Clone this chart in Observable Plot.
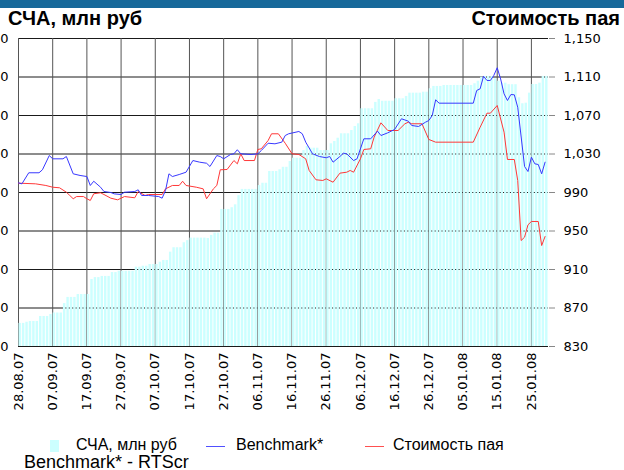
<!DOCTYPE html>
<html><head><meta charset="utf-8">
<script src="https://cdn.jsdelivr.net/npm/d3@7"></script>
<script src="https://cdn.jsdelivr.net/npm/@observablehq/plot@0.6"></script>
<style>
body{margin:0;background:#fff;}
#wrap{position:relative;width:624px;height:470px;overflow:hidden;background:#fff;font-family:"Liberation Sans",Arial,sans-serif;color:#000;}
#band{position:absolute;left:0;top:0;width:624px;height:8px;background:#17699a;z-index:3;}
.title{position:absolute;top:7px;font-weight:bold;font-size:20px;line-height:22px;z-index:2;white-space:nowrap;}
#chart{position:absolute;left:0;top:0;}
.leg{position:absolute;font-size:16px;line-height:18px;top:436px;white-space:nowrap;}
.sw{position:absolute;}
#note{position:absolute;left:24px;top:452px;font-size:18px;line-height:20px;white-space:nowrap;}
</style></head>
<body>
<div id="wrap">
  <div id="band"></div>
  <div class="title" style="left:8px;">СЧА, млн руб</div>
  <div class="title" style="right:4px;">Стоимость пая</div>
  <div id="chart"></div>
  <div class="sw" style="left:50px;top:440px;width:9px;height:12px;background:#ccffff;"></div>
  <div class="leg" style="left:76px;">СЧА, млн руб</div>
  <div class="sw" style="left:206px;top:446px;width:19px;height:1px;background:#5050ff;"></div>
  <div class="leg" style="left:236px;">Benchmark*</div>
  <div class="sw" style="left:365px;top:446px;width:19px;height:1px;background:#ff5050;"></div>
  <div class="leg" style="left:393px;">Стоимость пая</div>
  <div id="note">Benchmark* - RTScr</div>
</div>
<script>
// ---- data ----
const startDate = "2007-08-28";
const dayCount = 155;
const tickLabels = ["28.08.07","07.09.07","17.09.07","27.09.07","07.10.07","17.10.07","27.10.07","06.11.07","16.11.07","26.11.07","06.12.07","16.12.07","26.12.07","05.01.08","15.01.08","25.01.08"];
const rightTicks = [830,870,910,950,990,1030,1070,1110,1150];
const leftTicks = [0,200,400,600,800,1000,1200,1400,1600];

// СЧА, млн руб — one value per calendar day
const scaValues = [
 120,120,126,130,130,130,156,156,156,166,
 174,174,174,223,255,255,255,270,270,270,
 270,348,358,358,364,364,364,384,384,391,
 391,391,391,391,412,412,417,417,426,426,
 426,438,447,447,490,513,513,513,539,550,
 563,563,563,563,563,561,577,589,589,712,
 712,712,721,736,784,816,816,816,816,816,
 836,848,848,909,909,909,918,931,931,961,
 978,978,978,1018,1039,1030,1030,1030,1018,1018,
 1018,1053,1065,1082,1105,1105,1105,1122,1143,1157,
 1235,1235,1235,1235,1268,1283,1274,1274,1274,1274,
 1287,1287,1287,1299,1316,1316,1316,1316,1321,1321,
 1339,1351,1351,1351,1356,1356,1356,1356,1356,1356,
 1356,1356,1356,1365,1378,1399,1403,1403,1403,1391,
 1378,1368,1368,1360,1360,1360,1292,1261,1264,1316,
 1361,1361,1368,1403,1403];

// Benchmark* (day offset from start, value)
const benchDays = [0,1,3,6,7,9,10,13,14,16,18,20,21,22,24,25,27,28,30,31,34,35,36,38,41,42,43,44,45,47,49,51,53,55,56,58,59,60,62,63,64,65,68,70,71,73,75,77,78,79,82,83,84,86,88,90,91,92,94,95,96,98,99,101,103,105,106,108,110,112,114,115,117,119,120,121,122,123,133,134,135,136,137,138,139,140,141,142,143,144,145,146,148,149,150,151,152,153,154];
const benchValues = [1000,999,1010.5,1010.5,1013.6,1028.4,1025,1025,1027.4,1009.4,1007.7,1006.6,997.3,1001.7,995.5,991,990,988.6,987.9,990.3,991,992.8,986.9,986.9,985.8,984.1,992.1,1009.4,1006.6,1008.7,1011.1,1023.2,1021.5,1020.4,1017,1028.4,1027.4,1025,1029.5,1030.2,1034.4,1030.2,1029.5,1030.2,1033.6,1041.2,1040.6,1042.3,1049.2,1051,1053.4,1051,1042.3,1030.2,1027.4,1026.1,1027.4,1021.5,1027.4,1030.8,1030.2,1023.2,1025,1045.8,1045.8,1053.7,1049.2,1052,1055.5,1066.6,1064.1,1059.6,1058.6,1063,1064.8,1070,1086.3,1082.8,1082.8,1096,1097.7,1110.8,1106.4,1106.4,1111.6,1119.6,1108,1092.5,1085.6,1091.8,1091.5,1078.6,1017,1011.8,1026.7,1019.8,1019.1,1009.4,1021.5];

// Стоимость пая
const navDays = [0,5,8,10,12,14,15,16,17,19,20,21,22,24,25,27,29,31,34,35,37,38,42,43,45,47,48,49,52,54,55,57,58,59,61,63,64,65,66,69,70,71,73,74,76,78,80,82,84,85,87,89,90,92,94,96,97,98,100,101,103,104,105,106,108,111,113,114,115,118,120,122,133,135,137,138,140,142,143,145,146,147,148,149,150,152,153,154];
const navValues = [999.7,999,997.3,995.5,994.9,990.3,986.9,983.5,985.8,985.8,983.5,981.7,988.7,989.7,987.9,984.1,982.4,985.8,984.5,991,986.9,987.9,987.9,993.8,997.3,997.3,1001.7,997.3,995.5,993.8,983.5,993.8,997.3,1013.6,1013.9,1023.2,1019.8,1030.2,1023.2,1023.2,1034.7,1035.4,1044,1051,1051,1041.2,1030.2,1029.5,1025,1012.9,1003.2,1002.5,1004.2,1000.7,1010.1,1011.1,1012.9,1011.1,1025,1034.7,1035.4,1047.5,1055,1062.4,1054.4,1054.4,1061.4,1063,1061.4,1061.4,1045.1,1042.3,1042.3,1057.8,1072.4,1072.4,1080.4,1052.7,1024.3,1024.3,1002.5,940.1,943.6,956.4,959.9,959.9,934.9,944.3];

// ---- build ----
const DAY = 864e5;
const t0 = d3.utcParse("%Y-%m-%d")(startDate);
const dayDate = d => new Date(+t0 + d * DAY);
const parseTick = d3.utcParse("%d.%m.%y");
const tickDates = tickLabels.map(parseTick);
const rMin = rightTicks[0], rMax = rightTicks[rightTicks.length - 1];
const lMax = leftTicks[leftTicks.length - 1];
const toRight = v => rMin + v * (rMax - rMin) / lMax;

const sca = scaValues.map((v, i) => ({x1: dayDate(i), x2: dayDate(i + 1), v}));
const bench = benchDays.map((d, i) => ({x: dayDate(d), y: benchValues[i]}));
const nav = navDays.map((d, i) => ({x: dayDate(d), y: navValues[i]}));
const fmt = d3.format(",");

const chart = Plot.plot({
  width: 624, height: 430,
  marginTop: 38, marginBottom: 84, marginLeft: 18, marginRight: 76,
  style: {fontFamily: "DejaVu Sans", fontSize: "13px", background: "transparent", color: "#000"},
  x: {type: "utc", domain: [t0, dayDate(dayCount)]},
  y: {domain: [rMin, rMax]},
  marks: [
    Plot.gridY(rightTicks, {stroke: "#1a1a1a", strokeOpacity: 1, strokeWidth: 1}),
    Plot.gridX(tickDates, {stroke: "#555", strokeOpacity: 1, strokeWidth: 1}),
    Plot.rect(sca, {x1: "x1", x2: "x2", y1: rMin, y2: d => toRight(d.v), fill: "#ccffff", insetLeft: 0.5, insetRight: 0.5}),
    Plot.line(nav, {x: "x", y: "y", stroke: "#ff3838", strokeWidth: 1}),
    Plot.line(bench, {x: "x", y: "y", stroke: "#3838ff", strokeWidth: 1}),
    Plot.axisX(tickDates, {tickFormat: d => tickLabels[tickDates.findIndex(t => +t === +d)], tickRotate: -90, tickSize: 0, tickPadding: 6, label: null}),
    Plot.axisY(rightTicks, {anchor: "right", tickSize: 6, tickPadding: 9, stroke: "#888", fill: "#000", tickFormat: fmt, label: null}),
    Plot.axisY(rightTicks, {anchor: "left", tickSize: 0, tickPadding: 10, fill: "#000", tickFormat: (d, i) => fmt(leftTicks[i]), label: null})
  ]
});
document.getElementById("chart").appendChild(chart);
</script>
</body></html>
